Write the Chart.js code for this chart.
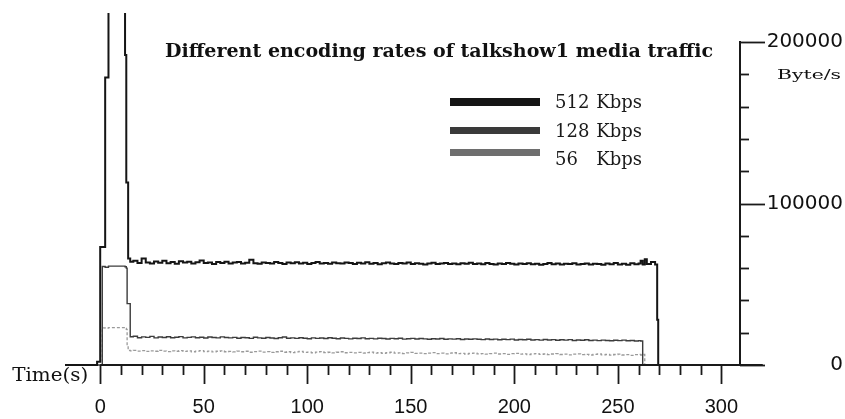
<!DOCTYPE html>
<html><head><meta charset="utf-8">
<script src="https://cdn.jsdelivr.net/npm/chart.js@4/dist/chart.umd.min.js"></script>
<style>html,body{margin:0;padding:0;background:#fff}canvas{display:block}</style>
</head><body>
<canvas id="c" width="845" height="419"></canvas>
<script>
// ---------- data ----------
const titleText = 'Different encoding rates of talkshow1 media traffic';
const seriesLabels = ['512 Kbps', '128 Kbps', '56  Kbps'];
const xAxisName = 'Time(s)';
const yAxisUnit = 'Byte/s';

const time = [-17, -1.5, 0, 1, 2.4, 4, 12, 12.6, 13, 13.5, 14.5,
  16,18,20,22,24,26,28,30,32,34,36,38,40,42,44,46,48,50,52,54,56,58,60,
  62,64,66,68,70,72,74,76,78,80,82,84,86,88,90,92,94,96,98,100,102,104,106,108,110,112,114,116,118,120,
  122,124,126,128,130,132,134,136,138,140,142,144,146,148,150,152,154,156,158,160,162,164,166,168,170,172,174,176,178,180,
  182,184,186,188,190,192,194,196,198,200,202,204,206,208,210,212,214,216,218,220,222,224,226,228,230,232,234,236,238,240,
  242,244,246,248,250,252,254,256,258,260,
  261, 262, 263, 264, 266, 268, 269, 269.5, 309];

const rate512 = [0, 2000, 73000, 73000, 178000, 300000, 192000, 113000, 113000, 66000, 64000,
  64500,63200,66000,63500,62900,64100,63300,64600,63000,63800,62700,64200,63400,63900,62800,63600,64700,63100,63500,62600,63800,63200,64000,
  62900,63400,63700,62800,63300,65200,63000,62700,63500,63100,62900,63800,63200,62600,63400,63000,63600,62800,63300,62500,63100,63700,62900,63200,62700,63500,63000,62800,63400,63100,
  62600,63300,62900,63600,62700,63200,62400,63000,63500,62800,62600,63100,62900,63400,62500,63000,62700,62300,62900,63300,62600,62800,63200,62500,62900,62400,63000,62700,63300,62600,
  62800,62400,63100,62600,62200,62900,62500,63200,62700,62300,62800,62500,63000,62400,62700,62100,62600,63100,62400,62800,62200,62700,62500,63000,62300,62600,62900,62200,62700,62500,
  62100,62800,62400,63200,62300,62700,62000,63000,62400,62800,
  64500, 62300, 65500, 62600, 63800, 62200, 28000, 0, 0];

const rate128 = [0, 0, 0, 61000, 60500, 61200, 60800, 60000, 38000, 38000, 17500,
  17800,16900,17400,17100,17700,16800,17300,17000,17500,16900,17200,17600,16800,17100,17400,16900,17200,16700,17300,17000,16800,17400,17000,
  16800,17100,16600,17000,16900,16500,17200,16800,16600,17000,16700,16400,16900,17300,16600,16800,16500,16900,16600,16300,16800,16500,16700,16400,16900,16600,16300,16700,16500,16200,
  16600,16400,16800,16300,16500,16200,16600,16400,16100,16500,16300,16600,16000,16300,16500,16100,16400,16200,15900,16300,16100,16400,15900,16200,16000,16300,15800,16100,15900,16200,
  15900,15700,16100,15800,16000,15600,15900,15700,16000,15500,15800,15600,15900,15500,15700,15400,15800,15500,15700,15300,15600,15400,15700,15200,15500,15300,15600,15200,15400,15100,
  15400,15200,15000,15300,15100,15400,15000,15200,14900,15100,
  14900, 0, 0, 0, 0, 0, 0, 0, 0];

const rate56 = [0, 0, 0, 23000, 22800, 23200, 22600, 22000, 12000, 9000, 8800,
  9000,8600,8900,8400,8800,8500,9100,8600,8300,8800,8500,8900,8400,8700,8200,8600,8900,8300,8600,8100,8500,8800,8200,
  8400,8100,8600,8200,8500,7900,8300,8600,8000,8300,7800,8200,8500,7900,8200,7700,8100,8400,7800,8000,7600,8000,8300,7700,7900,7500,7900,8200,7600,7800,
  7500,7800,7400,7700,8000,7400,7600,7200,7600,7900,7300,7500,7100,7500,7800,7200,7400,7000,7400,7700,7100,7300,6900,7300,7600,7000,7200,6800,7200,7400,
  6900,7100,6700,7100,7300,6800,7000,6600,7000,7200,6700,6900,6500,6900,7100,6600,6800,6400,6800,7000,6500,6700,6300,6700,6900,6400,6600,6200,6600,6800,
  6300,6500,6100,6500,6700,6200,6400,6000,6400,6600,
  6200, 6500, 0, 0, 0, 0, 0, 0, 0];

const xTickValues = [0, 50, 100, 150, 200, 250, 300];
const xMinorTickValues = [0,10,20,30,40,50,60,70,80,90,100,110,120,130,140,150,160,170,180,190,200,210,220,230,240,250,260,270,280,290,300];
const yTickValues = [0, 100000, 200000];
const yMinorTickValues = [0,20000,40000,60000,80000,100000,120000,140000,160000,180000,200000];
const xRange = [-17, 309];
const xAxisEnd = 320;
const yRange = [0, 200000];

// ---------- styles ----------
const lineColors = ['#151515', '#3c3c3c', '#9a9a9a'];
const lineWidths = [2, 1.4, 1.3];
const lineDashes = [[], [], [3, 2]];
const swatchColors = ['#151515', '#3a3a3a', '#6e6e6e'];

function pts(arr) { return time.map((t, i) => ({ x: t, y: arr[i] })); }
const allRates = [rate512, rate128, rate56];

function fitText(ctx, text, x, y, w, align) {
  const m = ctx.measureText(text).width;
  ctx.save();
  ctx.translate(x, y);
  ctx.scale(w / m, 1);
  ctx.textAlign = align;
  ctx.fillText(text, 0, 0);
  ctx.restore();
}

const decor = {
  id: 'decor',
  afterDatasetsDraw(chart) {
    const { ctx, chartArea } = chart;
    const xs = chart.scales.x, ys = chart.scales.y;
    const y0 = ys.getPixelForValue(0);
    ctx.save();
    ctx.strokeStyle = '#1a1a1a';
    ctx.lineWidth = 2;
    // x axis line
    ctx.beginPath();
    ctx.moveTo(xs.getPixelForValue(0), y0);
    ctx.lineTo(xs.getPixelForValue(xAxisEnd), y0);
    ctx.stroke();
    // x ticks
    ctx.lineWidth = 1.8;
    xMinorTickValues.forEach(v => {
      const px = Math.round(xs.getPixelForValue(v)) + 0.5;
      const len = xTickValues.includes(v) ? 19 : 10;
      ctx.beginPath(); ctx.moveTo(px, y0); ctx.lineTo(px, y0 + len); ctx.stroke();
    });
    // y axis line
    const ax = chartArea.right;
    ctx.lineWidth = 2;
    ctx.beginPath();
    ctx.moveTo(ax, y0);
    ctx.lineTo(ax, ys.getPixelForValue(yRange[1]) - 1);
    ctx.stroke();
    ctx.lineWidth = 1.8;
    yMinorTickValues.forEach(v => {
      const py = Math.round(ys.getPixelForValue(v)) + 0.5;
      const len = yTickValues.includes(v) ? 25 : 9;
      ctx.beginPath(); ctx.moveTo(ax, py); ctx.lineTo(ax + len, py); ctx.stroke();
    });
    // title
    ctx.fillStyle = '#111';
    ctx.textBaseline = 'alphabetic';
    ctx.font = 'bold 19px "DejaVu Serif"';
    fitText(ctx, titleText, 165, 57, 548, 'left');
    // unit label
    ctx.font = '13px "DejaVu Serif"';
    fitText(ctx, yAxisUnit, chart.width - 4, 79, 64, 'right');
    // x axis name
    ctx.font = '18px "DejaVu Serif"';
    fitText(ctx, xAxisName, xs.getPixelForValue(0) - 12, 381, 76, 'right');
    // legend
    const rows = [{ cy: 102, h: 8, base: 108 }, { cy: 130.5, h: 7, base: 137 }, { cy: 152.5, h: 7, base: 165 }];
    chart.data.datasets.forEach((ds, i) => {
      const r = rows[i];
      ctx.fillStyle = swatchColors[i];
      ctx.fillRect(450, r.cy - r.h / 2, 90, r.h);
      ctx.fillStyle = '#1a1a1a';
      ctx.font = '18px "DejaVu Serif"';
      const parts = ds.label.split(/\s+/);
      ctx.textAlign = 'left';
      ctx.fillText(parts[0], 555, r.base);
      ctx.textAlign = 'right';
      ctx.fillText(parts[1], 642, r.base);
    });
    ctx.restore();
  }
};

new Chart(document.getElementById('c'), {
  type: 'line',
  data: {
    datasets: allRates.map((arr, i) => ({
      label: seriesLabels[i],
      data: pts(arr),
      borderColor: lineColors[i],
      borderWidth: lineWidths[i],
      borderDash: lineDashes[i],
      stepped: true,
      pointRadius: 0,
      fill: false,
      clip: { left: 2, top: 29, right: 2, bottom: 4 }
    }))
  },
  options: {
    responsive: false,
    devicePixelRatio: 1,
    animation: false,
    events: [],
    layout: { padding: { left: 65, top: 42, right: 2, bottom: 0 } },
    plugins: { legend: { display: false }, title: { display: false }, tooltip: { enabled: false } },
    scales: {
      x: {
        type: 'linear',
        min: xRange[0], max: xRange[1],
        grid: { display: false, drawTicks: false },
        border: { display: false },
        afterBuildTicks: s => { s.ticks = xTickValues.map(v => ({ value: v })); },
        afterFit: s => { s.height = 54; },
        ticks: {
          autoSkip: false, maxRotation: 0, padding: 30,
          color: '#111',
          font: { family: '"Liberation Sans", Arial, sans-serif', size: 20 },
          callback: v => String(v)
        }
      },
      y: {
        type: 'linear',
        position: 'right',
        min: yRange[0], max: yRange[1],
        grid: { display: false, drawTicks: false },
        border: { display: false },
        afterBuildTicks: s => { s.ticks = yTickValues.map(v => ({ value: v })); },
        afterFit: s => { s.width = 103; },
        ticks: {
          padding: 27, crossAlign: 'far',
          color: '#111',
          font: { family: '"DejaVu Sans", sans-serif', size: 20 },
          callback: v => String(v)
        }
      }
    }
  },
  plugins: [decor]
});
</script>
</body></html>
